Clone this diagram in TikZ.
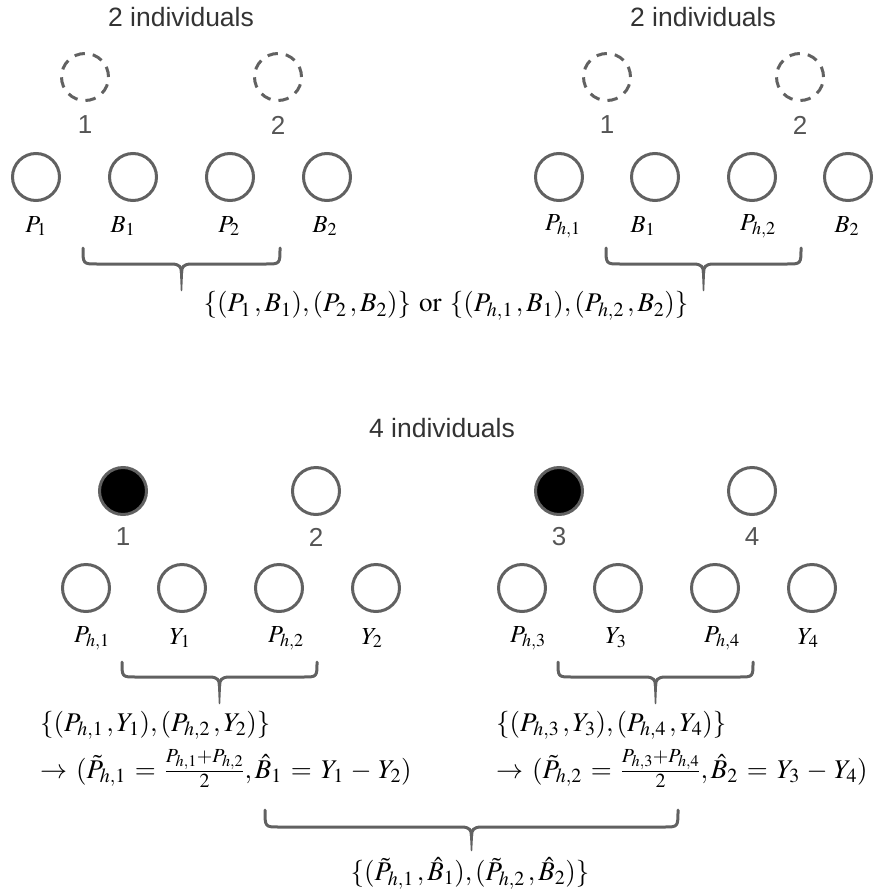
\documentclass[tikz,border=0pt]{standalone}
\usepackage{mathptmx}
\usepackage[no-math]{fontspec}
\newfontfamily\labelsans{Liberation Sans}
\usetikzlibrary{calc}
\definecolor{ringgray}{HTML}{616161}
\definecolor{titlegray}{HTML}{333333}
\definecolor{numgray}{HTML}{555555}

% curly brace opening downwards: #1 left x, #2 right x, #3 top y, #4 bar y, #5 tip y
\newcommand\drawcurly[5]{%
  \pgfmathsetmacro\curlymid{(#1+#2)/2}%
  \draw[curly] (#1,#3) .. controls (#1,#4) .. (#1+14,#4)
    -- (\curlymid-10,#4) .. controls (\curlymid-2,#4) and (\curlymid,#4+3) .. (\curlymid,#4+9)
    .. controls (\curlymid,#4+3) and (\curlymid+2,#4) .. (\curlymid+10,#4)
    -- (#2-14,#4) .. controls (#2,#4) .. (#2,#3);
  \fill[ringgray] (\curlymid-1.6,#4+7) -- (\curlymid+1.6,#4+7) -- (\curlymid+0.7,#5) -- (\curlymid-0.7,#5) -- cycle;
}

% slightly wider spacing around relations and binary operators
\thickmuskip=6mu plus 3mu
\medmuskip=4.5mu plus 2mu

\begin{document}
\begin{tikzpicture}[x=1pt,y=-1pt,
  ring/.style={circle,draw=ringgray,line width=3pt,minimum size=47pt,inner sep=0pt},
  ghost/.style={ring,dash pattern=on 10.5pt off 8pt},
  chosen/.style={ring,fill=black},
  title/.style={font=\labelsans\fontsize{26.5}{30}\selectfont,text=titlegray},
  idx/.style={font=\labelsans\fontsize{26}{30}\selectfont,text=numgray},
  var/.style={font=\fontsize{24.5}{28}\selectfont},
  formula/.style={font=\fontsize{27}{31}\selectfont,inner sep=0pt},
  curly/.style={draw=ringgray,line width=3pt,line cap=round,line join=round}]

\useasboundingbox (0,0) rectangle (876,891);

% ---- two individuals, observed P and B ----
\node[title] (tlTitle) at (181,17) {2 individuals};
\node[ghost] (tlG1) at (85,77) {};
\node[ghost] (tlG2) at (278,77) {};
\node[idx] (tlN1) at (85,125) {1};
\node[idx] (tlN2) at (278,125) {2};
\node[ring] (tlR1) at (36,177) {};
\node[ring] (tlR2) at (133,177) {};
\node[ring] (tlR3) at (230,177) {};
\node[ring] (tlR4) at (327,177) {};
\node[var] (tlL1) at (36,226) {$P_1$};
\node[var] (tlL2) at (123,226) {$B_1$};
\node[var] (tlL3) at (229,226) {$P_2$};
\node[var] (tlL4) at (325,226) {$B_2$};
\drawcurly{83}{280}{248}{264}{291}

% ---- two individuals, observed P_h and B ----
\node[title] (trTitle) at (703,17) {2 individuals};
\node[ghost] (trG1) at (607,77) {};
\node[ghost] (trG2) at (800,77) {};
\node[idx] (trN1) at (607,125) {1};
\node[idx] (trN2) at (800,125) {2};
\node[ring] (trR1) at (559,177) {};
\node[ring] (trR2) at (655,177) {};
\node[ring] (trR3) at (752,177) {};
\node[ring] (trR4) at (848,177) {};
\node[var] (trL1) at (563,226) {$P_{h,1}$};
\node[var] (trL2) at (643,226) {$B_1$};
\node[var] (trL3) at (758,226) {$P_{h,2}$};
\node[var] (trL4) at (847,226) {$B_2$};
\drawcurly{606}{801}{248}{264}{291}

\node[formula] (topSets) at (446,306)
  {$\{(P_1\,, B_1), (P_2\,, B_2)\}\ \mathrm{or}\ \{(P_{h,1}\,, B_1), (P_{h,2}\,, B_2)\}$};

% ---- four individuals ----
\node[title] (btTitle) at (442,428) {4 individuals};

\node[chosen] (blI1) at (123,491) {};
\node[ring] (blI2) at (316,491) {};
\node[idx] (blN1) at (123,537) {1};
\node[idx] (blN2) at (316,537) {2};
\node[ring] (blR1) at (86,588) {};
\node[ring] (blR2) at (182,588) {};
\node[ring] (blR3) at (279,588) {};
\node[ring] (blR4) at (376,588) {};
\node[var] (blL1) at (92,638) {$P_{h,1}$};
\node[var] (blL2) at (180,638) {$Y_1$};
\node[var] (blL3) at (286,638) {$P_{h,2}$};
\node[var] (blL4) at (372,638) {$Y_2$};
\drawcurly{122}{317}{662}{677}{704}

\node[chosen] (brI3) at (559,491) {};
\node[ring] (brI4) at (752,491) {};
\node[idx] (brN3) at (559,537) {3};
\node[idx] (brN4) at (752,537) {4};
\node[ring] (brR1) at (522,588) {};
\node[ring] (brR2) at (618,588) {};
\node[ring] (brR3) at (715,588) {};
\node[ring] (brR4) at (812,588) {};
\node[var] (brL1) at (528,638) {$P_{h,3}$};
\node[var] (brL2) at (616,638) {$Y_3$};
\node[var] (brL3) at (722,638) {$P_{h,4}$};
\node[var] (brL4) at (808,638) {$Y_4$};
\drawcurly{558}{753}{662}{677}{704}

\node[formula,anchor=base west] (blPairs) at (40,731)
  {$\{(P_{h,1}\,, Y_1), (P_{h,2}\,, Y_2)\}$};
\node[formula,anchor=base west] (blEst) at (40,778)
  {$\rightarrow (\tilde{P}_{h,1} = \frac{P_{h,1}+P_{h,2}}{2}, \hat{B}_1 = Y_1 - Y_2)$};
\node[formula,anchor=base west] (brPairs) at (496,731)
  {$\{(P_{h,3}\,, Y_3), (P_{h,4}\,, Y_4)\}$};
\node[formula,anchor=base west] (brEst) at (496,778)
  {$\rightarrow (\tilde{P}_{h,2} = \frac{P_{h,3}+P_{h,4}}{2}, \hat{B}_2 = Y_3 - Y_4)$};

\drawcurly{265}{678}{810}{827}{851}

\node[formula] (finalSet) at (470,873)
  {$\{(\tilde{P}_{h,1}\,, \hat{B}_1), (\tilde{P}_{h,2}\,, \hat{B}_2)\}$};
\end{tikzpicture}
\end{document}
